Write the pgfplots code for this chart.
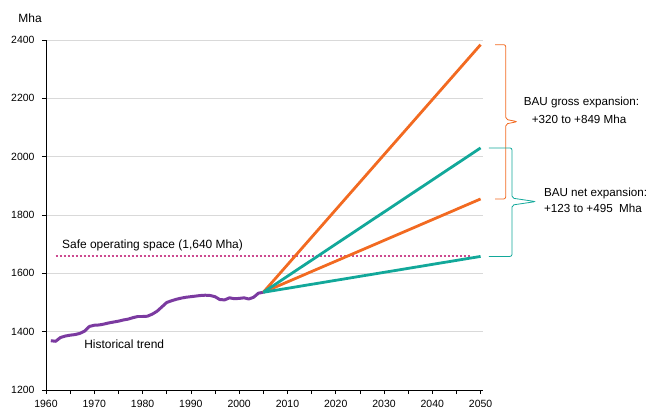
\documentclass[border=0pt]{standalone}
\usepackage{fontspec}
\setmainfont{Liberation Sans}
\usepackage{pgfplots}
\pgfplotsset{compat=1.18}

\definecolor{histpurple}{HTML}{7B3AA0}
\definecolor{bauorange}{HTML}{F26A21}
\definecolor{bauteal}{HTML}{12A89A}
\definecolor{safepink}{HTML}{CC4A90}
\definecolor{gridgray}{HTML}{D9D9D9}

\begin{document}
\begin{tikzpicture}
\begin{axis}[
  name=ax,
  at={(0,0)}, anchor=south west,
  scale only axis,
  width=437bp, height=350bp,
  xmin=1960, xmax=2050.5,
  ymin=1200, ymax=2400,
  axis x line*=bottom, axis y line*=left,
  axis line style={black, line width=1pt, -},
  xtick={1960,1970,...,2050},
  minor xtick={1965,1975,...,2045},
  ytick={1200,1400,...,2400},
  tick align=outside,
  major tick length=4bp, minor tick length=4bp,
  tick style={black, line width=0.6pt},
  ymajorgrids, grid style={gridgray, line width=0.8pt},
  x tick label style={/pgf/number format/1000 sep={}, yshift=-3bp},
  y tick label style={/pgf/number format/1000 sep={}, xshift=-4bp},
  /pgf/number format/assume math mode=true,
  tick label style={font=\fontsize{10.5}{12}\selectfont},
  clip=false,
]
% historical trend
\addplot[histpurple, line width=3pt, line join=round] coordinates {
(1961,1369)(1962,1367)(1963,1380)(1964,1385)(1965,1388)(1966,1390)(1967,1394)
(1968,1402)(1969,1418)(1970,1422)(1971,1423)(1972,1426)(1973,1430)(1974,1433)
(1975,1436)(1976,1440)(1977,1443)(1978,1448)(1979,1452)(1980,1452)(1981,1453)
(1982,1460)(1983,1470)(1984,1485)(1985,1500)(1986,1506)(1987,1511)(1988,1515)
(1989,1518)(1990,1520)(1991,1522)(1992,1524)(1993,1525)(1994,1524)(1995,1520)
(1996,1510)(1997,1509)(1998,1516)(1999,1513)(2000,1514)(2001,1516)(2002,1512)
(2003,1518)(2004,1532)(2005,1535)};
% safe operating space
\addplot[draw=safepink, line width=2pt, dash pattern=on 2.5bp off 1.5bp] coordinates {(1962,1661)(2048,1661)};
% BAU gross expansion
\addplot[bauorange, line width=2.8pt] coordinates {(2005,1535)(2050,2384)};
\addplot[bauorange, line width=2.8pt] coordinates {(2005,1535)(2050,1855)};
% BAU net expansion
\addplot[bauteal, line width=2.8pt] coordinates {(2005,1535)(2050,2030)};
\addplot[bauteal, line width=2.8pt] coordinates {(2005,1535)(2050,1658)};

% braces
\draw[bauorange, line width=0.8pt, rounded corners=2bp]
  (axis cs:2053,2384) -- (axis cs:2055.2,2384) -- (axis cs:2055.2,2128)
  -- (axis cs:2057.6,2120) -- (axis cs:2055.2,2112) -- (axis cs:2055.2,1855)
  -- (axis cs:2053,1855);
\draw[bauteal, line width=0.8pt, rounded corners=2bp]
  (axis cs:2051.7,2030) -- (axis cs:2056.5,2030) -- (axis cs:2056.5,1858)
  -- (axis cs:2061.4,1846) -- (axis cs:2056.5,1834) -- (axis cs:2056.5,1658)
  -- (axis cs:2051.7,1658);

% labels
\node[font=\fontsize{12}{14}\selectfont] at (axis cs:1956.7,2475) {Mha};
\node[anchor=west, inner sep=0pt, font=\fontsize{12}{14}\selectfont] at (axis cs:1963.3,1697) {Safe operating space (1,640 Mha)};
\node[anchor=west, inner sep=0pt, font=\fontsize{12}{14}\selectfont] at (axis cs:1967.9,1358) {Historical trend};
\node[font=\fontsize{11.7}{14}\selectfont] at (axis cs:2070.9,2187) {BAU gross expansion:};
\node[font=\fontsize{11.7}{14}\selectfont] at (axis cs:2070.4,2129) {+320 to +849 Mha};
\node[anchor=west, inner sep=0pt, font=\fontsize{11.7}{14}\selectfont] at (axis cs:2063.1,1875) {BAU net expansion:};
\node[anchor=west, inner sep=0pt, font=\fontsize{11.7}{14}\selectfont] at (axis cs:2063.1,1824) {+123 to +495~~Mha};
\end{axis}
\pgfresetboundingbox
\path[use as bounding box] (ax.south west) ++(-46bp,-25bp) rectangle ++(649bp,415bp);
\end{tikzpicture}
\end{document}
